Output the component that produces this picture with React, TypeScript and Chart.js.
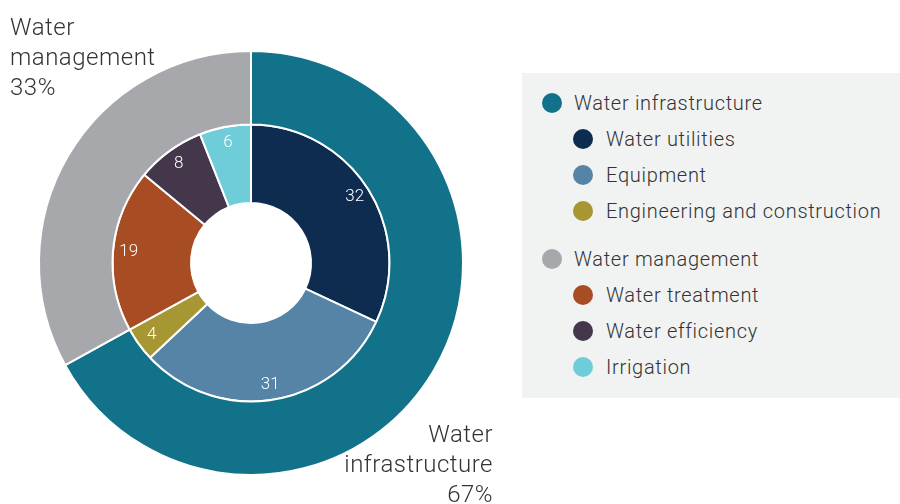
import React, { useEffect, useRef } from "react";
import { Chart, registerables } from "chart.js";

Chart.register(...registerables);

const outerLabels = ["Water infrastructure", "Water management"];
const outerValues = [67, 33];
const outerColors = ["#127289", "#a7a8ab"];

const innerLabels = [
  "Water utilities",
  "Equipment",
  "Engineering and construction",
  "Water treatment",
  "Water efficiency",
  "Irrigation",
];
const innerValues = [32, 31, 4, 19, 8, 6];
const innerColors = ["#0d2c4f", "#5584a7", "#a79733", "#a84c23", "#44364b", "#6fcdd9"];
const innerGroup = [0, 0, 0, 1, 1, 1];

const FONT = "Roboto, 'Liberation Sans', Arial, sans-serif";

const innerLabelPlugin = {
  id: "innerLabels",
  afterDatasetsDraw(chart: any) {
    const meta = chart.getDatasetMeta(1);
    const ctx = chart.ctx;
    ctx.save();
    ctx.fillStyle = "#ffffff";
    ctx.font = `300 17px ${FONT}`;
    ctx.textAlign = "center";
    ctx.textBaseline = "middle";
    meta.data.forEach((arc: any, i: number) => {
      const p = arc.getProps(["x", "y", "startAngle", "endAngle", "innerRadius", "outerRadius"], true);
      const a = (p.startAngle + p.endAngle) / 2;
      const r = p.innerRadius + (p.outerRadius - p.innerRadius) * 0.8;
      ctx.fillText(String(innerValues[i]), p.x + Math.cos(a) * r, p.y + Math.sin(a) * r);
    });
    ctx.restore();
  },
};

function LegendRow({ color, label, sub, top }: { color: string; label: string; sub: boolean; top: number }) {
  const cx = sub ? 583 : 552;
  return (
    <div style={{ position: "absolute", left: 0, top: 0 }}>
      <div
        style={{
          position: "absolute",
          left: cx - 10,
          top: top - 10,
          width: 20,
          height: 20,
          borderRadius: 10,
          background: color,
        }}
      />
      <div
        style={{
          position: "absolute",
          left: sub ? 606 : 574,
          top: top - 14,
          height: 28,
          lineHeight: "28px",
          fontSize: 20,
          fontWeight: 300,
          letterSpacing: "0.7px",
          color: "#333333",
          whiteSpace: "nowrap",
          fontFamily: FONT,
        }}
      >
        {label}
      </div>
    </div>
  );
}

export default function App() {
  const ref = useRef<HTMLCanvasElement>(null);
  useEffect(() => {
    if (!ref.current) return;
    const chart = new Chart(ref.current, {
      type: "doughnut",
      data: {
        labels: innerLabels,
        datasets: [
          {
            label: "Outer",
            data: outerValues,
            backgroundColor: outerColors,
            borderColor: "#ffffff",
            borderWidth: 2,
            weight: 74,
          } as any,
          {
            label: "Inner",
            data: innerValues,
            backgroundColor: innerColors,
            borderColor: "#ffffff",
            borderWidth: 2,
            weight: 79,
          } as any,
        ],
      },
      options: {
        animation: false,
        responsive: false,
        maintainAspectRatio: false,
        cutout: 60,
        layout: { padding: 2 },
        plugins: { legend: { display: false }, tooltip: { enabled: false } },
      },
      plugins: [innerLabelPlugin],
    });
    return () => chart.destroy();
  }, []);

  const rows: { color: string; label: string; sub: boolean; top: number }[] = [];
  const ys = [103, 139, 175, 211, 259, 295, 331, 367];
  let k = 0;
  outerLabels.forEach((lab, g) => {
    rows.push({ color: outerColors[g], label: lab, sub: false, top: ys[k++] });
    innerLabels.forEach((il, i) => {
      if (innerGroup[i] === g) rows.push({ color: innerColors[i], label: il, sub: true, top: ys[k++] });
    });
  });

  const bigText: React.CSSProperties = {
    position: "absolute",
    fontSize: 24,
    lineHeight: "30px",
    fontWeight: 300,
    letterSpacing: "0.5px",
    color: "#333333",
    fontFamily: FONT,
    whiteSpace: "nowrap",
  };

  return (
    <div
      style={{
        position: "absolute",
        left: 0,
        top: 0,
        width: 900,
        height: 504,
        background: "#ffffff",
        overflow: "hidden",
      }}
    >
      <canvas
        ref={ref}
        width={430}
        height={430}
        style={{ position: "absolute", left: 36, top: 48, width: 430, height: 430 }}
      />
      <div style={{ ...bigText, left: 10, top: 12, textAlign: "left" }}>
        Water
        <br />
        management
        <br />
        33%
      </div>
      <div style={{ ...bigText, right: 900 - 493, top: 419, textAlign: "right" }}>
        Water
        <br />
        infrastructure
        <br />
        67%
      </div>
      <div
        style={{
          position: "absolute",
          left: 522,
          top: 73,
          width: 378,
          height: 325,
          background: "#f1f2f2",
        }}
      />
      {rows.map((r, i) => (
        <LegendRow key={i} {...r} />
      ))}
    </div>
  );
}
